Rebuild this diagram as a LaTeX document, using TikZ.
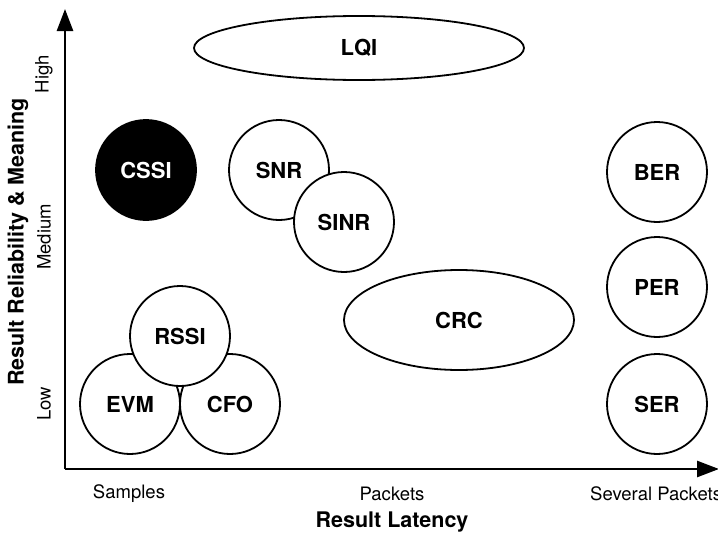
\documentclass[tikz,border=0pt]{standalone}
\usepackage{fontspec}
\setmainfont{TeX Gyre Heros}
\usetikzlibrary{arrows.meta,shapes.geometric}
\begin{document}
\begin{tikzpicture}[x=1pt,y=-1pt,
  metric/.style={circle,draw=black,line width=1.8pt,minimum size=100pt,inner sep=0pt,font=\bfseries\fontsize{22}{24}\selectfont},
  oval/.style={ellipse,draw=black,line width=1.8pt,inner sep=0pt,font=\bfseries\fontsize{22}{24}\selectfont},
  axis/.style={line width=2.6pt,-{Triangle[length=22pt,width=16pt]}},
  tick/.style={font=\fontsize{18.5}{20}\selectfont},
  title/.style={font=\bfseries\fontsize{21.5}{23}\selectfont}]
\useasboundingbox (0,0) rectangle (718,533);
\coordinate (o) at (65,469);
\coordinate (ytop) at (65,9);
\coordinate (xend) at (719,469);
\draw[axis] (o) -- (ytop);
\draw[axis] (o) -- (xend);
\node[oval,minimum width=330pt,minimum height=64pt] (lqi) at (359,48) {LQI};
\node[metric,fill=black,text=white] (cssi) at (146,170) {CSSI};
\node[metric] (snr) at (279,170) {SNR};
\node[metric,fill=white] (sinr) at (344,222) {SINR};
\node[metric] (ber) at (657,172) {BER};
\node[metric] (per) at (657,287) {PER};
\node[metric] (ser) at (657,404) {SER};
\node[oval,minimum width=230pt,minimum height=100pt] (crc) at (459,320) {CRC};
\node[metric] (evm) at (130,404) {EVM};
\node[metric] (cfo) at (230,404) {CFO};
\node[metric,fill=white] (rssi) at (180,336) {RSSI};
\node[tick,rotate=90] (high) at (44,74) {High};
\node[tick,rotate=90] (med) at (44,237) {Medium};
\node[tick,rotate=90] (low) at (44,404) {Low};
\node[title,rotate=90] (ytitle) at (18,242) {Result Reliability \& Meaning};
\node[tick] (samples) at (129,494) {Samples};
\node[tick] (packets) at (392,494) {Packets};
\node[tick,anchor=west,inner sep=0pt] (several) at (590,494) {Several Packets};
\node[title] (xtitle) at (392,522) {Result Latency};
\end{tikzpicture}
\end{document}
